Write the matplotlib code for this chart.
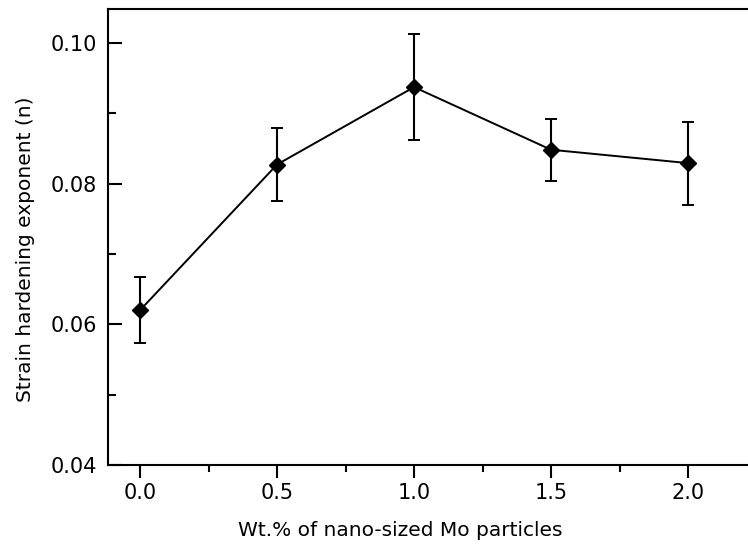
import matplotlib
matplotlib.use("Agg")
import matplotlib.pyplot as plt
from matplotlib.ticker import MultipleLocator

plt.rcParams['font.family'] = ['DejaVu Sans']
plt.rcParams['ytick.direction'] = 'in'
plt.rcParams['xtick.direction'] = 'out'

mo_wt = [0.0, 0.5, 1.0, 1.5, 2.0]
n_value = [0.0620, 0.0827, 0.0937, 0.0848, 0.0829]
n_error = [0.0047, 0.0052, 0.0075, 0.0044, 0.0059]

W, H = 748, 544
fig = plt.figure(figsize=(W / 100, H / 100), dpi=100)

# x range chosen so the right spine falls just outside the canvas
x_lo, x_hi = -0.117, 2.25
px_per_unit = 274.0
left_px, bottom_px, top_px = 108, 465, 9
ax_w_px = (x_hi - x_lo) * px_per_unit
ax_h_px = bottom_px - top_px
ax = fig.add_axes([left_px / W, (H - bottom_px) / H, ax_w_px / W, ax_h_px / H])

ax.errorbar(mo_wt, n_value, yerr=n_error, color='black', lw=1.4,
            marker='D', markersize=8.5, capsize=4.5, capthick=1.4, elinewidth=1.5)

ax.set_xlim(x_lo, x_hi)
ax.set_ylim(0.04, 0.1048)

ax.xaxis.set_major_locator(MultipleLocator(0.5))
ax.xaxis.set_minor_locator(MultipleLocator(0.25))
ax.yaxis.set_major_locator(MultipleLocator(0.02))
ax.yaxis.set_minor_locator(MultipleLocator(0.01))
ax.xaxis.set_major_formatter(plt.FormatStrFormatter('%.1f'))
ax.yaxis.set_major_formatter(plt.FormatStrFormatter('%.2f'))

# y ticks point into the plot, x ticks point outward
ax.tick_params(axis='y', which='major', direction='in', length=10, width=1.5,
               labelsize=15, pad=8, left=True, right=False)
ax.tick_params(axis='y', which='minor', direction='in', length=6, width=1.5,
               left=True, right=False)
ax.tick_params(axis='x', which='major', direction='out', length=9, width=1.5,
               labelsize=15, pad=4, bottom=True, top=False)
ax.tick_params(axis='x', which='minor', direction='out', length=5, width=1.5,
               bottom=True, top=False)
for s in ax.spines.values():
    s.set_linewidth(1.5)

ax.set_xlabel('Wt.% of nano-sized Mo particles', fontsize=14.5)
ax.set_ylabel('Strain hardening exponent (n)', fontsize=14.5)
ax.xaxis.set_label_coords((400 - left_px) / ax_w_px, (bottom_px - 521) / ax_h_px)
ax.yaxis.set_label_coords((35 - left_px) / ax_w_px, (bottom_px - 249) / ax_h_px)

fig.savefig('out.png', dpi=100)
